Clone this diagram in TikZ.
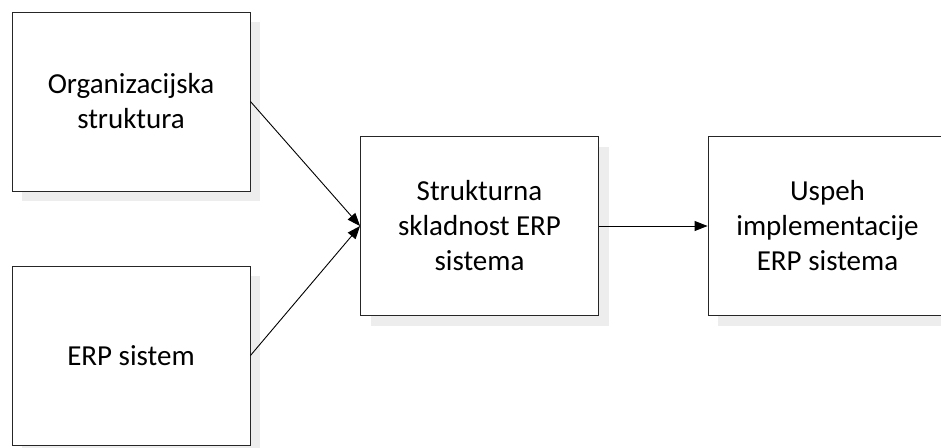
\documentclass[tikz,border=0pt]{standalone}
\usepackage{fontspec}
\setmainfont{Carlito}
\usetikzlibrary{arrows.meta,positioning,shadows}

\begin{document}
\begin{tikzpicture}[x=1pt,y=-1pt,
  blok/.style={draw=black!85, line width=0.9pt, fill=white, align=center,
    minimum width=238pt, minimum height=179pt, inner sep=0pt,
    font=\fontsize{29}{35}\selectfont,
    drop shadow={shadow xshift=10pt, shadow yshift=-10pt, fill=black!7, opacity=1}},
  puscica/.style={draw=black, line width=0.9pt, -{Triangle[length=13pt,width=10pt]}}]
\useasboundingbox (0,0) rectangle (941,447);
% vhodni dejavniki
\node[blok] (org) at (131,101.5) {Organizacijska\\struktura};
\node[blok] (erp) at (131,355.5) {ERP sistem};
% skladnost in uspeh
\node[blok] (sklad) at (479.5,226) {Strukturna\\skladnost ERP\\sistema};
\node[blok, minimum width=239pt] (uspeh) at (827.5,226) {Uspeh\\implementacije\\ERP sistema};
\draw[puscica] (org.east) -- (sklad.west);
\draw[puscica] (erp.east) -- (sklad.west);
\draw[puscica] (sklad.east) -- (uspeh.west);
\end{tikzpicture}
\end{document}
